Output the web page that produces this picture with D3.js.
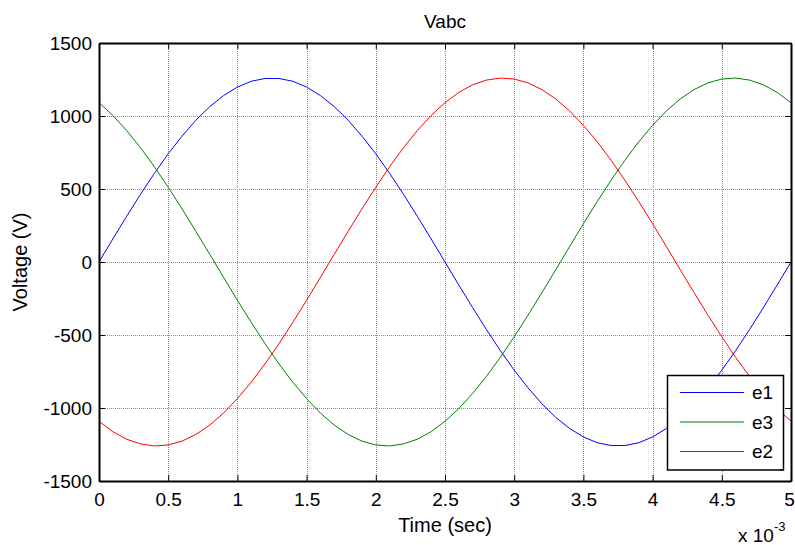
<!DOCTYPE html>
<html>
<head>
<meta charset="utf-8">
<script src="https://cdn.jsdelivr.net/npm/d3@7"></script>
<style>
  html, body { margin: 0; padding: 0; background: #fff; }
  svg { display: block; font-family: "Liberation Sans", Arial, Helvetica, sans-serif; }
</style>
</head>
<body>
<svg id="chart" width="795" height="545"></svg>
<script>
// Time samples (ms) and the three phase voltages (V)
const timeMs = [0,0.1,0.2,0.3,0.4,0.5,0.6,0.7,0.8,0.9,1,1.1,1.2,1.3,1.4,1.5,1.6,1.7,1.8,1.9,2,
  2.1,2.2,2.3,2.4,2.5,2.6,2.7,2.8,2.9,3,3.1,3.2,3.3,3.4,3.5,3.6,3.7,3.8,3.9,4,
  4.1,4.2,4.3,4.4,4.5,4.6,4.7,4.8,4.9,5];

const e1 = [0,158,313,464,607,741,862,971,1064,1140,1198,1238,1257,1257,1238,1198,1140,1064,971,862,741,
  607,464,313,158,0,-158,-313,-464,-607,-741,-862,-971,-1064,-1140,-1198,-1238,-1257,-1257,-1238,-1198,
  -1140,-1064,-971,-862,-741,-607,-464,-313,-158,0];

const e2 = [-1091,-1162,-1214,-1246,-1260,-1253,-1227,-1181,-1117,-1035,-936,-823,-697,-560,-414,-262,-105,53,210,364,512,
  653,783,900,1004,1091,1162,1214,1246,1260,1253,1227,1181,1117,1035,936,823,697,560,414,262,
  105,-53,-210,-364,-512,-653,-783,-900,-1004,-1091];

const e3 = [1091,1004,900,783,653,512,364,210,53,-105,-262,-414,-560,-697,-823,-936,-1035,-1117,-1181,-1227,-1253,
  -1260,-1246,-1214,-1162,-1091,-1004,-900,-783,-653,-512,-364,-210,-53,105,262,414,560,697,823,936,
  1035,1117,1181,1227,1253,1260,1246,1214,1162,1091];

const seriesNames = ["e1", "e3", "e2"];
const seriesColors = ["#0000ff", "#008000", "#ff0000"];
const seriesValues = [e1, e3, e2];

const xTicks = [0,0.5,1,1.5,2,2.5,3,3.5,4,4.5,5];
const xTickLabels = ["0","0.5","1","1.5","2","2.5","3","3.5","4","4.5","5"];
const yTicks = [-1500,-1000,-500,0,500,1000,1500];
const yTickLabels = ["-1500","-1000","-500","0","500","1000","1500"];

const titleText = "Vabc";
const xLabelText = "Time (sec)";
const yLabelText = "Voltage (V)";

// Plot box
const pLeft = 99, pRight = 791, pTop = 43, pBottom = 481;
const svg = d3.select("#chart");

const x = d3.scaleLinear().domain([0, 5]).range([pLeft, pRight]);
const y = d3.scaleLinear().domain([-1500, 1500]).range([pBottom, pTop]);

// Dotted grid
const grid = svg.append("g").attr("stroke", "#8c8c8c").attr("stroke-width", 1)
  .attr("stroke-dasharray", "1,1");
grid.selectAll("line.gx").data(xTicks.slice(1, -1)).join("line").attr("class", "gx")
  .attr("x1", d => Math.round(x(d)) + 0.5).attr("x2", d => Math.round(x(d)) + 0.5)
  .attr("y1", pTop).attr("y2", pBottom);
grid.selectAll("line.gy").data(yTicks.slice(1, -1)).join("line").attr("class", "gy")
  .attr("y1", d => Math.round(y(d)) + 0.5).attr("y2", d => Math.round(y(d)) + 0.5)
  .attr("x1", pLeft).attr("x2", pRight);

// Curves
const line = d3.line().x((d, i) => x(timeMs[i])).y(d => y(d));
const curves = svg.append("g").attr("fill", "none").attr("stroke-width", 1);
seriesValues.forEach((vals, i) => {
  curves.append("path").datum(vals).attr("d", line).attr("stroke", seriesColors[i]);
});

// Axes with inward ticks on all four sides
function styleAxis(g) {
  g.selectAll("path.domain").attr("stroke", "#000").attr("stroke-width", 2);
  g.selectAll(".tick line").attr("stroke", "#000").attr("stroke-width", 1);
  g.selectAll("text").attr("fill", "#000").attr("font-size", "19px")
    .attr("font-family", '"Liberation Sans", Arial, sans-serif');
}

const xAxis = d3.axisBottom(x).tickValues(xTicks)
  .tickFormat((d, i) => xTickLabels[i]).tickSizeInner(-6).tickSizeOuter(0).tickPadding(12);
const xAxisG = svg.append("g").attr("transform", `translate(0,${pBottom})`).call(xAxis).call(styleAxis);
// keep the last label inside the window edge
xAxisG.selectAll(".tick text").filter((d, i, n) => i === n.length - 1).attr("dx", -2);

const xAxisTop = d3.axisTop(x).tickValues(xTicks).tickFormat("").tickSizeInner(-6).tickSizeOuter(0);
svg.append("g").attr("transform", `translate(0,${pTop})`).call(xAxisTop).call(styleAxis);

const yAxis = d3.axisLeft(y).tickValues(yTicks)
  .tickFormat((d, i) => yTickLabels[i]).tickSizeInner(-6).tickSizeOuter(0).tickPadding(7);
svg.append("g").attr("transform", `translate(${pLeft},0)`).call(yAxis).call(styleAxis);

const yAxisRight = d3.axisRight(y).tickValues(yTicks).tickFormat("").tickSizeInner(-6).tickSizeOuter(0);
svg.append("g").attr("transform", `translate(${pRight},0)`).call(yAxisRight).call(styleAxis);

// Texts
svg.append("text").attr("x", (pLeft + pRight) / 2).attr("y", 28)
  .attr("text-anchor", "middle").attr("font-size", "19px").text(titleText);

svg.append("text").attr("x", (pLeft + pRight) / 2).attr("y", 532)
  .attr("text-anchor", "middle").attr("font-size", "20px").text(xLabelText);

svg.append("text").attr("transform", `translate(27,${(pTop + pBottom) / 2}) rotate(-90)`)
  .attr("text-anchor", "middle").attr("font-size", "20px").text(yLabelText);

// Exponent label for the time axis
const expo = svg.append("text").attr("x", 738).attr("y", 542).attr("font-size", "19px");
expo.append("tspan").text("x 10");
expo.append("tspan").attr("font-size", "13px").attr("dy", -11).text("-3");

// Legend
const lg = { x: 667.5, y: 375.5, w: 116, h: 94.5 };
const legend = svg.append("g");
legend.append("rect").attr("x", lg.x).attr("y", lg.y).attr("width", lg.w).attr("height", lg.h)
  .attr("fill", "#fff").attr("stroke", "#000").attr("stroke-width", 1.5);
// small tick marks at the legend's right corners
[lg.y, lg.y + lg.h].forEach(ly => {
  legend.append("line").attr("x1", lg.x + lg.w).attr("x2", lg.x + lg.w - 4)
    .attr("y1", ly).attr("y2", ly).attr("stroke", "#000");
});
seriesNames.forEach((name, i) => {
  const ly = 392.5 + i * 29.5;
  legend.append("line").attr("x1", 680).attr("x2", 744).attr("y1", ly).attr("y2", ly)
    .attr("stroke", seriesColors[i]).attr("stroke-width", 1);
  legend.append("text").attr("x", 752).attr("y", ly).attr("dy", "0.36em")
    .attr("font-size", "19px").text(name);
});
</script>
</body>
</html>
